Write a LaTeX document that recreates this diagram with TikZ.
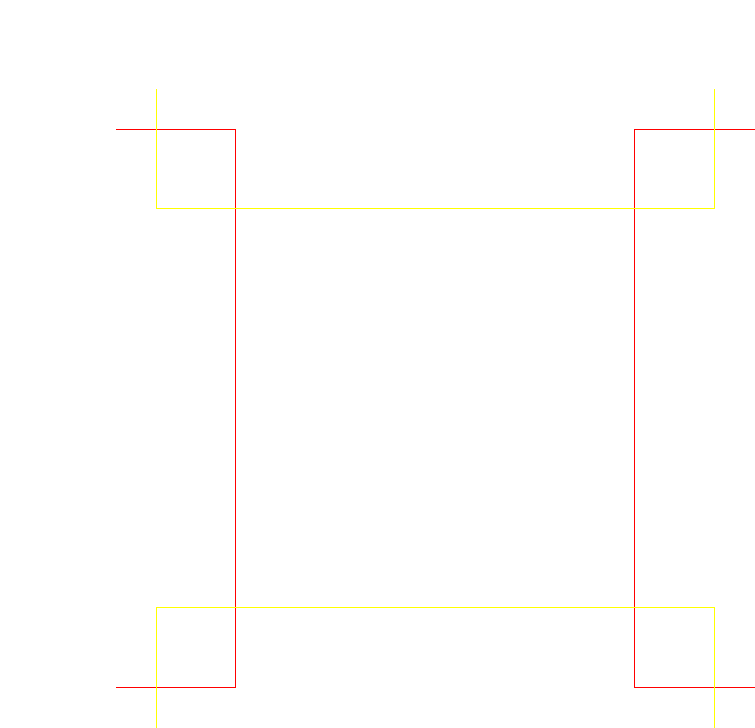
\documentclass[tikz,border=0pt]{standalone}
\begin{document}
\begin{tikzpicture}[x=1pt,y=-1pt,line width=1.3pt,
  redline/.style={draw={rgb,255:red,255;green,0;blue,0}},
  yellowline/.style={draw={rgb,255:red,255;green,255;blue,0}}]
\useasboundingbox (0,0) rectangle (755,728);
% red brackets
\draw[redline] (116,129.5) -- (235.5,129.5) -- (235.5,687.5) -- (116,687.5);
\draw[redline] (755,129.5) -- (634.5,129.5) -- (634.5,687.5) -- (755,687.5);
% yellow brackets
\draw[yellowline] (156.5,89) -- (156.5,208.5) -- (714.5,208.5) -- (714.5,89);
\draw[yellowline] (156.5,728) -- (156.5,607.5) -- (714.5,607.5) -- (714.5,728);
\end{tikzpicture}
\end{document}
